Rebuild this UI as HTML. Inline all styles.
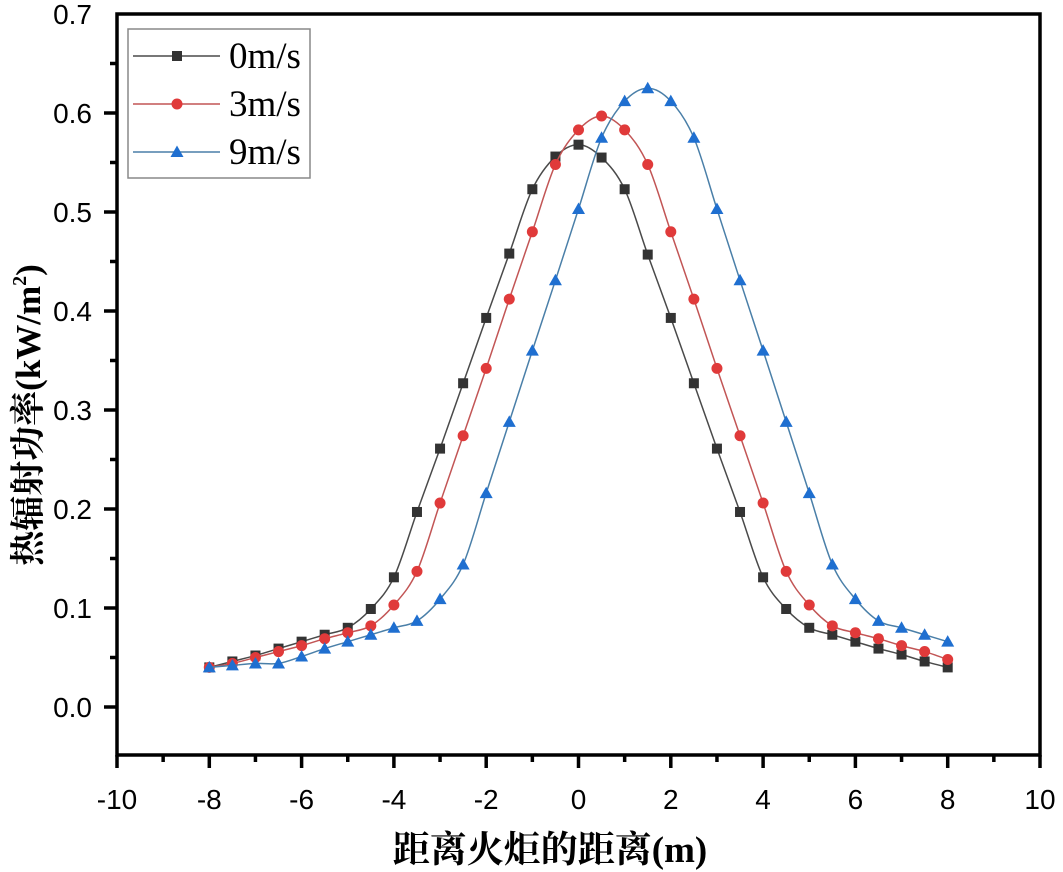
<!DOCTYPE html>
<html><head><meta charset="utf-8"><style>
html,body{margin:0;padding:0;background:#fff;}
svg{display:block;}
</style></head><body>
<svg id="chart" width="1063" height="872" xmlns="http://www.w3.org/2000/svg">
<g id="axes"></g>
<g id="series"></g>
<g id="legend">
<rect x="128" y="29" width="182" height="149" fill="#fff" stroke="#888" stroke-width="1.5"/>
</g>
<text x="550" y="862" text-anchor="middle" font-family="'Liberation Serif','Noto Serif CJK SC',serif" font-size="37" font-weight="bold">距离火炬的距离(m)</text>
<text transform="translate(40,415) rotate(-90)" text-anchor="middle" font-family="'Liberation Serif','Noto Serif CJK SC',serif" font-size="35" font-weight="bold">热辐射功率(kW/m<tspan font-size="20" dy="-14">2</tspan><tspan dy="14">)</tspan></text>
</svg>
<script>
const xValues=[-8,-7.5,-7,-6.5,-6,-5.5,-5,-4.5,-4,-3.5,-3,-2.5,-2,-1.5,-1,-0.5,0,0.5,1,1.5,2,2.5,3,3.5,4,4.5,5,5.5,6,6.5,7,7.5,8];
const s0=[0.040,0.046,0.052,0.059,0.066,0.073,0.080,0.099,0.131,0.197,0.261,0.327,0.393,0.458,0.523,0.556,0.568,0.555,0.523,0.457,0.393,0.327,0.261,0.197,0.131,0.099,0.080,0.073,0.066,0.059,0.053,0.046,0.040];
const s3=[0.040,0.044,0.050,0.056,0.062,0.069,0.075,0.082,0.103,0.137,0.206,0.274,0.342,0.412,0.480,0.548,0.583,0.597,0.583,0.548,0.480,0.412,0.342,0.274,0.206,0.137,0.103,0.082,0.075,0.069,0.062,0.056,0.048];
const s9=[0.040,0.042,0.044,0.044,0.051,0.059,0.066,0.073,0.080,0.087,0.109,0.144,0.216,0.288,0.360,0.431,0.503,0.575,0.612,0.625,0.612,0.575,0.503,0.431,0.360,0.288,0.216,0.144,0.109,0.087,0.080,0.073,0.066];
const seriesNames=["0m/s","3m/s","9m/s"];
const xTicks=[-10,-8,-6,-4,-2,0,2,4,6,8,10];
const yTicks=[0.0,0.1,0.2,0.3,0.4,0.5,0.6,0.7];

const L=117,R=1040,T=14,B=755,Y0=707,Y7=14;
const X=v=>L+(v+10)/20*(R-L);
const Y=v=>Y0-(v/0.7)*(Y0-Y7);
const NS="http://www.w3.org/2000/svg";
function mk(tag,attrs,parent){const e=document.createElementNS(NS,tag);for(const k in attrs)e.setAttribute(k,attrs[k]);parent.appendChild(e);return e;}
const axes=document.getElementById('axes');
let fr=mk('path',{d:`M${L},${T}H${R}V${B}H${L}Z`,fill:'none',stroke:'#000','stroke-width':3.5},axes);


for(let v=-10;v<=10;v+=1){
  const maj=v%2===0;
  const t=mk('line',{x1:X(v),x2:X(v),y1:B,y2:B+(maj?13:7),stroke:'#000','stroke-width':3.5},axes);
  
  
}
xTicks.forEach(v=>{
  const t=mk('text',{x:X(v),y:809,'text-anchor':'middle','font-family':'Liberation Sans,sans-serif','font-size':28},axes);
  t.textContent=String(v);
  
  
});
for(let i=-1;i<=14;i++){
  const v=i*0.05;
  const y=Y(v);
  if(y>B||y<T)continue;
  const maj=i%2===0;
  const t=mk('line',{x1:L-(maj?13:7),x2:L,y1:y,y2:y,stroke:'#000','stroke-width':3.5},axes);
  
  
}
yTicks.forEach(v=>{
  const t=mk('text',{x:92,y:Y(v)+10,'text-anchor':'end','font-family':'Liberation Sans,sans-serif','font-size':28},axes);
  t.textContent=v.toFixed(1);
  
  
});
function spline(pts){
  let d=`M${pts[0][0]},${pts[0][1]}`;
  for(let i=0;i<pts.length-1;i++){
    const p0=pts[i-1]||pts[i],p1=pts[i],p2=pts[i+1],p3=pts[i+2]||p2;
    const c1=[p1[0]+(p2[0]-p0[0])/6,p1[1]+(p2[1]-p0[1])/6];
    const c2=[p2[0]-(p3[0]-p1[0])/6,p2[1]-(p3[1]-p1[1])/6];
    d+=`C${c1[0]},${c1[1]} ${c2[0]},${c2[1]} ${p2[0]},${p2[1]}`;
  }
  return d;
}
function marker(type,cx,cy,color,parent){
  let m;
  if(type==='sq')m=mk('rect',{x:cx-5,y:cy-5,width:10,height:10,fill:color},parent);
  else if(type==='ci')m=mk('circle',{cx:cx,cy:cy,r:5.5,fill:color},parent);
  else m=mk('path',{d:`M${cx},${cy-6.5}L${cx+6.5},${cy+5}L${cx-6.5},${cy+5}Z`,fill:color},parent);
  return m;
}
const defs=[[s0,'#4a4a4a','#333','sq'],[s3,'#c25555','#e03a3a','ci'],[s9,'#4a7fa8','#1f6fd0','tr']];
const sg=document.getElementById('series');
const lg=document.getElementById('legend');
defs.forEach((d,k)=>{
  const g=mk('g',{},sg);
  
  
  const pts=xValues.map((x,i)=>[X(x),Y(d[0][i])]);
  const p=mk('path',{d:spline(pts),fill:'none',stroke:d[1],'stroke-width':1.5},g);
  
  
  pts.forEach(pt=>{
    const m=marker(d[3],pt[0],pt[1],d[2],g);
    
    
  });
  const ly=56+k*48;
  const e=mk('g',{},lg);
  
  
  mk('line',{x1:133,x2:220,y1:ly,y2:ly,stroke:d[1],'stroke-width':1.5},e);
  marker(d[3],177,ly,d[2],e);
  const t=mk('text',{x:229,y:ly+12,'font-family':'Liberation Serif,serif','font-size':37},e);
  t.textContent=seriesNames[k];
});
</script>
</body></html>
